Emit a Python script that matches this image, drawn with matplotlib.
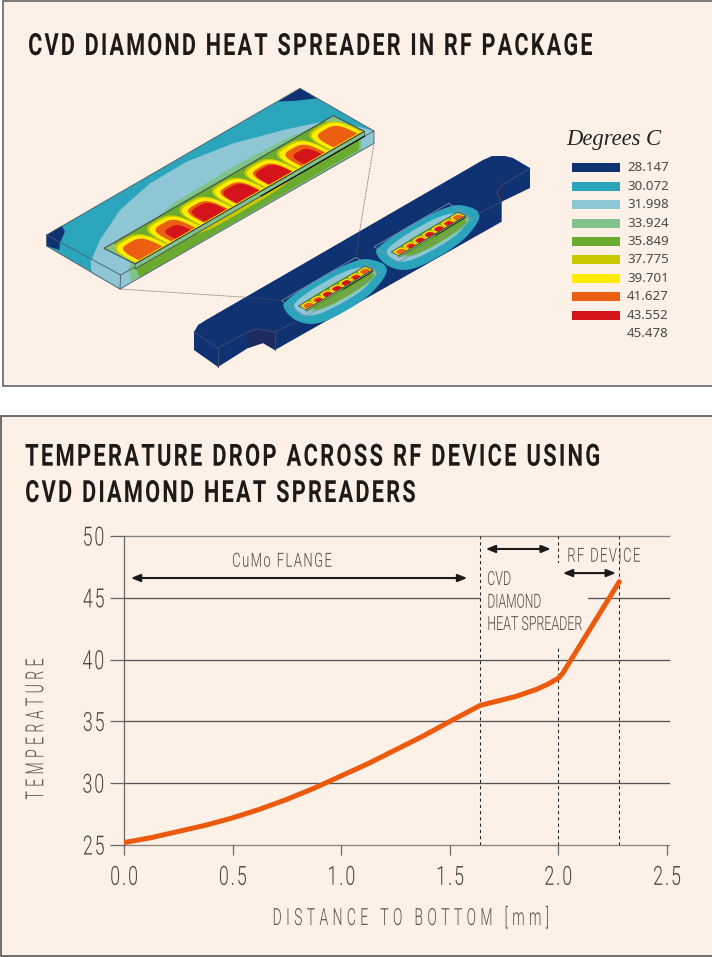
import numpy as np
import matplotlib
matplotlib.use("Agg")
import matplotlib.pyplot as plt
from matplotlib.patches import Polygon, Rectangle
from matplotlib.patheffects import AbstractPathEffect
from matplotlib.transforms import Affine2D

# --- data ---
distance = [0.0, 0.125, 0.25, 0.375, 0.5, 0.625, 0.75, 0.875, 1.0, 1.125, 1.25, 1.375, 1.5, 1.64,
            1.8, 1.9, 1.95, 2.0, 2.02, 2.28]
temperature = [25.2, 25.6, 26.1, 26.6, 27.2, 27.9, 28.7, 29.6, 30.6, 31.6, 32.7, 33.8, 35.0, 36.3,
               37.0, 37.6, 38.0, 38.5, 38.9, 46.3]
x_ticks = [0.0, 0.5, 1.0, 1.5, 2.0, 2.5]
y_ticks = [25, 30, 35, 40, 45, 50]
section_bounds = [1.64, 2.0, 2.28]

legend_values = ["28.147", "30.072", "31.998", "33.924", "35.849",
                 "37.775", "39.701", "41.627", "43.552", "45.478"]
legend_colors = ["#0f3272", "#2aa5bc", "#8fc6d6", "#7fc28a", "#6aaa2e",
                 "#c8c800", "#ffec00", "#ec5f12", "#d4141a"]

BG = "#fdf0e7"
NAVY, TEAL, PALE, MINT, GREEN, OLIVE, YELLOW, ORANGE, RED = legend_colors
SANS = ["Roboto", "DejaVu Sans"]


class Squeeze(AbstractPathEffect):
    # no condensed face is installed, so narrow the glyphs along the baseline
    def __init__(self, sx, anchor="left", sy=1.0):
        super().__init__()
        self.sx = sx
        self.sy = sy
        self.anchor = anchor

    def draw_path(self, renderer, gc, tpath, affine, rgbFace=None):
        ext = tpath.get_extents()
        ref = {"left": ext.x0, "center": (ext.x0 + ext.x1) / 2, "right": ext.x1}[self.anchor]
        squeeze = Affine2D().translate(-ref, 0).scale(self.sx, self.sy).translate(ref, 0)
        renderer.draw_path(gc, tpath, squeeze + affine, rgbFace)


def spaced(s):
    # letterspacing with hair spaces, the original type is set wide
    return "\u200a".join(s)


def zc(pts):
    return np.array(pts, dtype=float) / 3 + [0, 60]


def smooth(pts, n=3):
    # corner cutting, rounds the outlines
    pts = np.asarray(pts, dtype=float)
    for _ in range(n):
        nxt = np.roll(pts, -1, axis=0)
        pts = np.column_stack([0.75 * pts + 0.25 * nxt, 0.25 * pts + 0.75 * nxt]).reshape(-1, 2)
    return pts


def poly(ax, pts, color, z=2, **kw):
    ax.add_patch(Polygon(pts, closed=True, facecolor=color, edgecolor=kw.pop("edge", "none"),
                         linewidth=kw.pop("lw", 0), zorder=z, **kw))


def arch(uc, a, h, vb=0.97, p=0.55):
    t = np.linspace(0, np.pi, 40)
    c, s = np.cos(t), np.sin(t)
    return np.column_stack([uc + a * np.sign(c) * np.abs(c) ** p, vb - h * np.abs(s) ** p])


def draw_chip(ax, O, U, V, depth, z=5, lw=0.7):
    O, U, V = np.array(O), np.array(U), np.array(V)
    to_xy = lambda uv: O + np.outer(uv[:, 0], U) + np.outer(uv[:, 1], V)
    box = np.array([[0, 0], [1, 0], [1, 1], [0, 1]], dtype=float)
    # side strip under the front edge
    side = np.vstack([to_xy(box[[3, 2]]), to_xy(box[[2, 3]]) + [0, depth]])
    poly(ax, side, MINT, z)
    poly(ax, to_xy(box), GREEN, z)
    for ends in ([[0, 0], [0.04, 0], [0.03, 1], [0, 1]], [[0.96, 0], [1, 0], [1, 1], [0.97, 1]]):
        poly(ax, to_xy(np.array(ends)), MINT, z)
    centres = [0.075, 0.2167, 0.3583, 0.5, 0.6417, 0.7833, 0.925]
    red_size = [None, (0.034, 0.46), (0.046, 0.6), (0.048, 0.62), (0.048, 0.62), (0.038, 0.5), None]
    for uc, rs in zip(centres, red_size):
        poly(ax, to_xy(arch(uc, 0.0705, 0.9)), OLIVE, z)
        poly(ax, to_xy(arch(uc, 0.066, 0.83)), YELLOW, z)
        poly(ax, to_xy(arch(uc, 0.052, 0.7)), ORANGE, z)
        if rs:
            poly(ax, to_xy(arch(uc, rs[0], rs[1])), RED, z)
    strip = to_xy(np.array([[0.02, 0.95], [1, 0.95], [1, 1.0], [0.02, 1.0]]))
    poly(ax, strip, YELLOW, z)
    poly(ax, to_xy(box), "none", z + 0.1, edge="#444444", lw=lw)
    poly(ax, side, "none", z + 0.1, edge="#444444", lw=lw * 0.8)
    front = to_xy(np.array([[0.55, 1.0], [1.0, 1.0]])) + [0, depth]
    ax.plot(front[:, 0], front[:, 1], color="#111111", lw=lw * 1.3, zorder=z + 0.2)


def blob(c, U, V, a, b, p=0.8):
    t = np.linspace(0, 2 * np.pi, 90)
    ca, sa = np.cos(t), np.sin(t)
    return (np.array(c) + np.outer(a * np.sign(ca) * np.abs(ca) ** p, U)
            + np.outer(b * np.sign(sa) * np.abs(sa) ** p, V))


def draw_small_device(ax, O, U, V, offset):
    c = np.array(O) + 0.5 * np.array(U) + 0.5 * np.array(V)
    teal = zc([(845, 722), (1068, 592), (1140, 603), (1165, 625), (1150, 660), (1100, 715),
               (1000, 775), (940, 795), (890, 785), (855, 755)]) + offset
    pale = zc([(875, 725), (1060, 615), (1130, 632), (1100, 685), (1000, 745), (930, 772),
               (890, 755)]) + offset
    slab = zc([(845, 722), (1068, 592), (1140, 640), (915, 770)]) + offset
    poly(ax, smooth(teal), TEAL, 3)
    poly(ax, smooth(pale), PALE, 3)
    poly(ax, blob(c + np.array(V) * 0.6, U, V, 0.5, 1.35), MINT, 3)
    poly(ax, blob(c + np.array(V) * 1.0, U, V, 0.44, 0.8), GREEN, 3)
    poly(ax, slab, "none", 4, edge="#7f93a8", lw=0.6)
    draw_chip(ax, O, U, V, 1.8, z=5, lw=0.45)


fig = plt.figure(figsize=(7.12, 9.57), dpi=100, facecolor="white")
renderer = fig.canvas.get_renderer()

# full page layer in pixels, for the panels and the illustration
page = fig.add_axes([0, 0, 1, 1])
page.set_xlim(0, 712)
page.set_ylim(957, 0)
page.axis("off")
page.add_patch(Rectangle((2.5, 0.5), 712, 385, facecolor=BG, edgecolor="#666666", lw=1.2))
page.add_patch(Rectangle((0.5, 416), 712, 539.5, facecolor=BG, edgecolor="#555555", lw=1.2))


def fit_text(host, x, y, s, width, anchor="left", sy=1.0, **kw):
    # x, y in page pixels on the baseline, width is the run length seen in the reference
    t = host.text(x, y, s, transform=page.transData, va="baseline", ha=anchor,
                  family=SANS, rotation_mode="anchor", **kw)
    ext = t.get_window_extent(renderer)
    t.set_path_effects([Squeeze(width / max(ext.width, ext.height), anchor, sy)])
    return t


# set small and stretched up so the unsqueezed run still fits the page
title_kw = dict(weight="bold", fontsize=18.5, sy=22 / 18.5, color="#1d1a18")
fit_text(page, 28, 55, spaced("CVD DIAMOND HEAT SPREADER IN RF PACKAGE"), 565, **title_kw)
fit_text(page, 25, 465.7, spaced("TEMPERATURE DROP ACROSS RF DEVICE USING"), 576, **title_kw)
fit_text(page, 25, 502, spaced("CVD DIAMOND HEAT SPREADERS"), 391, **title_kw)

# colour scale
page.text(566, 140, "Degrees C", family="Liberation Serif", style="italic", fontsize=16.3,
          color="#222222", va="center", ha="left")
for i, val in enumerate(legend_values):
    yc = 167.7 + i * 18.45
    if i < len(legend_colors):
        page.add_patch(Rectangle((572, yc - 4.5), 48, 9, facecolor=legend_colors[i], edgecolor="none"))
    page.text(627, yc, val, family="Noto Sans", fontsize=9.6, color="#4a4a4a", va="center", ha="left")

# flange with the two packages
flange = [(194, 332), (198, 325), (206, 320), (483, 160), (492, 156), (505, 156), (513, 158), (530, 168),
          (530, 188), (501.7, 201.7), (501.7, 221.7), (275, 350), (263, 343), (248, 348), (218, 367), (194, 350)]
poly(page, flange, NAVY, 2)
poly(page, [(248, 332), (257, 329), (275, 332), (275, 350), (263, 343), (248, 348)], "#1e2b5e", 2.1)
poly(page, [(496.7, 193), (499, 188), (503, 184), (503, 201), (501.7, 201.7)], "#1e2b5e", 2.1)
line_kw = dict(color="#3c4a70", lw=0.7, zorder=6)
page.plot([194, 218, 248, 257, 275, 295], [332, 348, 332, 329, 332, 322], **line_kw)
page.plot([218, 218], [348, 367], **line_kw)
page.plot([275, 275], [332, 350], **line_kw)
page.plot([478, 501.7, 497, 502, 530], [214, 201.7, 193, 185, 168.5], **line_kw)

O1 = np.array([298.3, 306.0])
U1 = np.array([66.7, -40.0])
V1 = np.array([7.7, 3.7])
shift = np.array([92.7, -54.0])
draw_small_device(page, O1 + shift, U1, V1, shift)
draw_small_device(page, O1, U1, V1, np.zeros(2))

# enlarged package, top and front faces
poly(page, zc([(140, 525), (900, 85), (1122, 213), (362, 645)]), TEAL, 2)
poly(page, zc([(140, 525), (362, 645), (360, 687), (140, 558)]), TEAL, 2)
poly(page, zc([(140, 525), (185, 497), (195, 515), (180, 548), (178, 570), (140, 558)]), NAVY, 2.2)
poly(page, zc([(835, 125), (900, 85), (950, 115), (890, 122)]), NAVY, 2.2)
poly(page, zc([(272, 605), (300, 540), (360, 450), (450, 370), (560, 305), (700, 250), (850, 210),
               (1000, 178), (1122, 213), (1122, 250), (360, 687), (275, 640)]), PALE, 2.4)
poly(page, zc([(395, 664), (385, 625), (430, 510), (520, 430), (700, 320), (860, 235), (1000, 175),
               (1085, 222), (1085, 272)]), MINT, 2.6)
poly(page, zc([(405, 620), (1078, 235), (1076, 270), (680, 500), (420, 652)]), GREEN, 2.8)
poly(page, smooth(zc([(535, 535), (620, 515), (700, 470), (860, 375), (885, 335), (780, 395)]), 2), OLIVE, 2.9)
for seg in ([(140, 525), (900, 85), (1122, 213), (362, 645), (140, 525)],
            [(140, 525), (140, 558), (360, 687), (1122, 250), (1122, 213)],
            [(362, 645), (360, 687)]):
    s = zc(seg)
    page.plot(s[:, 0], s[:, 1], color="#4a5a66", lw=0.6, zorder=3)

draw_chip(page, zc([(312, 565)])[0], np.array([688, -398]) / 3, np.array([93, 47]) / 3, 5, z=5, lw=0.7)

# dotted leader lines from the enlarged view
lead_kw = dict(color="#555555", lw=0.6, ls=(0, (1, 1)), zorder=7)
s = zc([(360, 687), (740, 712), (850, 722)])
page.plot(s[:, 0], s[:, 1], **lead_kw)
s = zc([(1122, 250), (1078, 520), (1068, 590)])
page.plot(s[:, 0], s[:, 1], **lead_kw)

# --- temperature profile ---
x0, x1 = 124.3, 667.0
y_top, y_bot = 536.0, 845.0
ax = fig.add_axes([x0 / 712, 1 - y_bot / 957, (x1 - x0) / 712, (y_bot - y_top) / 957])
ax.patch.set_alpha(0)
ax.set_xlim(0, 2.5)
ax.set_ylim(25, 50)
for side in ("top", "right", "bottom"):
    ax.spines[side].set_visible(False)
ax.spines["left"].set_color("#666666")
ax.spines["left"].set_linewidth(0.9)
ax.set_xticks(x_ticks)
ax.set_yticks(y_ticks)
ax.set_xticklabels([spaced(f"{v:.1f}") for v in x_ticks], family=SANS, weight=300, fontsize=19, color="#4a4540")
ax.set_yticklabels([spaced(str(v)) for v in y_ticks], family=SANS, weight=300, fontsize=19, color="#4a4540")
ax.tick_params(axis="x", length=7, width=0.9, color="#666666", pad=8)
ax.tick_params(axis="y", length=10, width=0.9, color="#666666", pad=4)
for lab in ax.get_xticklabels():
    lab.set_path_effects([Squeeze(0.68, "center")])
for lab in ax.get_yticklabels():
    lab.set_path_effects([Squeeze(0.68, "right")])
for v in y_ticks:
    ax.plot([0, 2.51], [v, v], color="#8a8580" if v in (25, 50) else "#555555", lw=0.95, zorder=1,
            clip_on=False)

for b in section_bounds:
    ax.plot([b, b], [25, 50], color="#222222", lw=0.75, ls=(0, (3, 3)), zorder=2)
# the 45 line and the 2.0 rule stop around the label
ax.add_patch(Rectangle((1.645, 41.0), 0.49, 6.8, facecolor=BG, edgecolor="none", zorder=3))

ax.plot(distance, temperature, color="#ec5a0d", lw=3.6, solid_capstyle="round",
        solid_joinstyle="round", zorder=4)

arrow_kw = dict(arrowstyle="<|-|>,head_length=0.55,head_width=0.22", color="#1a1a1a", lw=1.5,
                shrinkA=0, shrinkB=0)
ax.annotate("", xy=(0.03, 46.6), xytext=(1.58, 46.6), arrowprops=arrow_kw, zorder=5)
ax.annotate("", xy=(1.665, 48.95), xytext=(1.965, 48.95), arrowprops=arrow_kw, zorder=5)
ax.annotate("", xy=(2.02, 47.0), xytext=(2.265, 47.0), arrowprops=arrow_kw, zorder=5)

label_kw = dict(weight=300, fontsize=14, color="#4f4a46", zorder=5)
fit_text(ax, 231.7, 566.7, spaced("CuMo FLANGE"), 100, **label_kw)
fit_text(ax, 486.7, 585, "CVD", 24, **label_kw)
fit_text(ax, 486.7, 607.7, "DIAMOND", 54, **label_kw)
fit_text(ax, 486.7, 630, "HEAT SPREADER", 95, **label_kw)
fit_text(ax, 566.7, 561.7, spaced("RF DEVICE"), 73, **label_kw)

fit_text(page, 409.5, 925, spaced(spaced("DISTANCE TO BOTTOM [mm]")), 275, anchor="center",
         weight=300, fontsize=17, color="#5a5550")
fit_text(page, 43.3, 730, spaced(spaced("TEMPERATURE")), 140, anchor="center", rotation=90,
         weight=300, fontsize=18, color="#5a5550")

fig.savefig("out.png", dpi=100, facecolor="white")
